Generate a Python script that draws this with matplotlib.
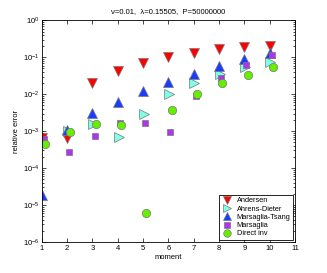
import numpy as np
from matplotlib import pyplot as plt
from matplotlib.ticker import LogLocator, NullFormatter

plt.rcParams.update({'font.size': 5.5, 'font.family': ['Liberation Sans', 'DejaVu Sans']})

# moments and relative errors
moment = np.arange(1, 11)
andersen = [6.5e-4, 6.4e-4, 0.0207, 0.0438, 0.0722, 0.101, 0.130, 0.167, 0.189, 0.209]
ahrens = [4.7e-4, 1.0e-3, 1.56e-3, 6.8e-4, 2.9e-3, 0.0100, 0.0207, 0.0357, 0.056, 0.074]
tsang = [1.9e-5, 1.1e-3, 3.1e-3, 6.3e-3, 0.0125, 0.0215, 0.0358, 0.058, 0.092, 0.135]
marsaglia = [6.3e-4, 2.75e-4, 7.5e-4, 1.7e-3, 1.7e-3, 9.3e-4, 9.2e-3, 0.027, 0.061, 0.117]
direct = [4.5e-4, 9.7e-4, 1.56e-3, 1.47e-3, 5.9e-6, 3.7e-3, 0.0102, 0.0207, 0.0335, 0.056]
yticks = [1e-6, 1e-5, 1e-4, 1e-3, 1e-2, 1e-1, 1]

series = [
    ('Andersen', andersen, 'v', '#ff0000', 6.5, 0.0),
    ('Ahrens-Dieter', ahrens, '>', '#80ffe6', 6.5, 0.03),
    ('Marsaglia-Tsang', tsang, '^', '#1a3cff', 6.5, 0.0),
    ('Marsaglia', marsaglia, 's', '#b033f0', 5.0, 0.08),
    ('Direct inv', direct, 'o', '#66ee00', 6.0, 0.13),
]

fig = plt.figure(figsize=(3.27, 2.73), dpi=100)
ax = fig.add_axes([0.128, 0.114, 0.774, 0.811])

for name, vals, mk, col, ms, off in series:
    ax.semilogy(moment + off, vals, linestyle='none', marker=mk, color=col,
                markersize=ms, markeredgecolor='#777777', markeredgewidth=0.5,
                label=name)

ax.set_xlim(1, 11)
ax.set_ylim(1e-6, 1)
ax.set_xticks(range(1, 12))
ax.set_yticks(yticks)
ax.yaxis.set_minor_locator(LogLocator(base=10, subs=np.arange(2, 10), numticks=10))
ax.yaxis.set_minor_formatter(NullFormatter())
ax.tick_params(which='both', direction='in', top=True, right=True, width=0.5)
ax.tick_params(which='major', length=3, pad=2)
ax.tick_params(which='minor', length=1.5)
for s in ax.spines.values():
    s.set_linewidth(0.6)

ax.set_xlabel('moment', labelpad=2)
ax.set_ylabel('relative error', labelpad=2)
ax.set_title('\u03bd=0.01,  \u03bb=0.15505,  P=50000000', fontsize=5.5, pad=5)

leg = ax.legend(loc='lower right', fancybox=False, edgecolor='black',
                framealpha=1, handletextpad=0.5, borderpad=0.3,
                labelspacing=0.15, borderaxespad=0.3, markerscale=0.9,
                handlelength=1.6, fontsize=5.3)
leg.get_frame().set_linewidth(0.6)

fig.savefig('out.png', dpi=100)
